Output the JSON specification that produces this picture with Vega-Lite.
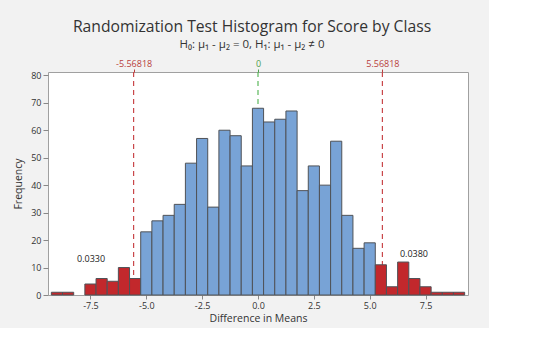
{
  "$schema": "https://vega.github.io/schema/vega-lite/v6.json",
  "width": 420,
  "height": 223,
  "autosize": {"type": "none"},
  "padding": {"left": 48, "top": 72, "right": 21, "bottom": 33},
  "background": "#f2f2f2",
  "view": {"fill": "white", "stroke": "#a0a0a0", "strokeWidth": 1},
  "config": {"font": "Open Sans"},
  "title": {
    "text": "Randomization Test Histogram for Score by Class",
    "subtitle": "H₀: μ₁ - μ₂ = 0, H₁: μ₁ - μ₂ ≠ 0",
    "anchor": "middle",
    "fontSize": 15.7,
    "fontWeight": "normal",
    "color": "#333333",
    "subtitleFontSize": 11.5,
    "subtitleColor": "#333333",
    "subtitlePadding": 3,
    "offset": 8,
    "dx": -6
  },
  "datasets": {
    "bins": [
      {"diff": -9.25, "diff_end": -8.75, "freq": 1, "region": "tail"},
      {"diff": -8.75, "diff_end": -8.25, "freq": 1, "region": "tail"},
      {"diff": -7.75, "diff_end": -7.25, "freq": 4, "region": "tail"},
      {"diff": -7.25, "diff_end": -6.75, "freq": 6, "region": "tail"},
      {"diff": -6.75, "diff_end": -6.25, "freq": 5, "region": "tail"},
      {"diff": -6.25, "diff_end": -5.75, "freq": 10, "region": "tail"},
      {"diff": -5.75, "diff_end": -5.25, "freq": 6, "region": "tail"},
      {"diff": -5.25, "diff_end": -4.75, "freq": 23, "region": "mid"},
      {"diff": -4.75, "diff_end": -4.25, "freq": 27, "region": "mid"},
      {"diff": -4.25, "diff_end": -3.75, "freq": 29, "region": "mid"},
      {"diff": -3.75, "diff_end": -3.25, "freq": 33, "region": "mid"},
      {"diff": -3.25, "diff_end": -2.75, "freq": 48, "region": "mid"},
      {"diff": -2.75, "diff_end": -2.25, "freq": 57, "region": "mid"},
      {"diff": -2.25, "diff_end": -1.75, "freq": 32, "region": "mid"},
      {"diff": -1.75, "diff_end": -1.25, "freq": 60, "region": "mid"},
      {"diff": -1.25, "diff_end": -0.75, "freq": 58, "region": "mid"},
      {"diff": -0.75, "diff_end": -0.25, "freq": 47, "region": "mid"},
      {"diff": -0.25, "diff_end": 0.25, "freq": 68, "region": "mid"},
      {"diff": 0.25, "diff_end": 0.75, "freq": 63, "region": "mid"},
      {"diff": 0.75, "diff_end": 1.25, "freq": 64, "region": "mid"},
      {"diff": 1.25, "diff_end": 1.75, "freq": 67, "region": "mid"},
      {"diff": 1.75, "diff_end": 2.25, "freq": 38, "region": "mid"},
      {"diff": 2.25, "diff_end": 2.75, "freq": 47, "region": "mid"},
      {"diff": 2.75, "diff_end": 3.25, "freq": 40, "region": "mid"},
      {"diff": 3.25, "diff_end": 3.75, "freq": 56, "region": "mid"},
      {"diff": 3.75, "diff_end": 4.25, "freq": 29, "region": "mid"},
      {"diff": 4.25, "diff_end": 4.75, "freq": 17, "region": "mid"},
      {"diff": 4.75, "diff_end": 5.25, "freq": 19, "region": "mid"},
      {"diff": 5.25, "diff_end": 5.75, "freq": 11, "region": "tail"},
      {"diff": 5.75, "diff_end": 6.25, "freq": 3, "region": "tail"},
      {"diff": 6.25, "diff_end": 6.75, "freq": 12, "region": "tail"},
      {"diff": 6.75, "diff_end": 7.25, "freq": 6, "region": "tail"},
      {"diff": 7.25, "diff_end": 7.75, "freq": 3, "region": "tail"},
      {"diff": 7.75, "diff_end": 8.25, "freq": 1, "region": "tail"},
      {"diff": 8.25, "diff_end": 8.75, "freq": 1, "region": "tail"},
      {"diff": 8.75, "diff_end": 9.25, "freq": 1, "region": "tail"}
    ],
    "refs": [
      {"value": -5.56818, "kind": "observed"},
      {"value": 0, "kind": "null"},
      {"value": 5.56818, "kind": "observed"}
    ],
    "pvals": [
      {"diff": -7.47, "freq": 13, "label": "0.0330"},
      {"diff": 6.98, "freq": 14.8, "label": "0.0380"}
    ]
  },
  "layer": [
    {
      "data": {"name": "refs"},
      "mark": {"type": "rule", "strokeDash": [5, 4], "strokeWidth": 1.2},
      "encoding": {
        "x": {
          "field": "value",
          "type": "quantitative",
          "scale": {"domain": [-9.4, 9.4], "nice": false, "zero": false},
          "axis": {
            "orient": "top",
            "values": [-5.56818, 0, 5.56818],
            "labelExpr": "datum.value == 0 ? '0' : replace(format(datum.value, '.5f'), '\u2212', '-')",
            "title": null,
            "grid": false,
            "domain": false,
            "tickSize": 3,
            "labelPadding": 1,
            "labelFontSize": 9,
            "labelColor": {"condition": {"test": "datum.value == 0", "value": "#4ea04e"}, "value": "#b8403c"},
            "tickColor": {"condition": {"test": "datum.value == 0", "value": "#4ea04e"}, "value": "#b8403c"}
          }
        },
        "stroke": {
          "field": "kind",
          "type": "nominal",
          "scale": {"domain": ["observed", "null"], "range": ["#c9474a", "#5cb85c"]},
          "legend": null
        }
      }
    },
    {
      "encoding": {
        "x": {
          "field": "diff",
          "type": "quantitative",
          "scale": {"domain": [-9.4, 9.4], "nice": false, "zero": false},
          "axis": {
            "orient": "bottom",
            "values": [-7.5, -5, -2.5, 0, 2.5, 5, 7.5],
            "labelExpr": "replace(format(datum.value, '.1f'), '\u2212', '-')",
            "title": "Difference in Means",
            "titleFontSize": 10.5,
            "titleFontWeight": "normal",
            "titleColor": "#333333",
            "titlePadding": 3,
            "grid": false,
            "domain": false,
            "tickSize": 4,
            "tickColor": "#888888",
            "labelPadding": 2,
            "labelFontSize": 9,
            "labelColor": "#333333"
          }
        },
        "y": {
          "field": "freq",
          "type": "quantitative",
          "scale": {"domain": [0, 81.2], "nice": false},
          "axis": {
            "values": [0, 10, 20, 30, 40, 50, 60, 70, 80],
            "title": "Frequency",
            "titleFontSize": 10.5,
            "titleFontWeight": "normal",
            "titleColor": "#333333",
            "titlePadding": 7,
            "grid": false,
            "domain": false,
            "tickSize": 5,
            "tickColor": "#888888",
            "labelPadding": 2,
            "labelFontSize": 9,
            "labelColor": "#333333"
          }
        }
      },
      "layer": [
        {
          "data": {"name": "bins"},
          "mark": {"type": "bar", "stroke": "#4f5257", "strokeWidth": 1},
          "encoding": {
            "x2": {"field": "diff_end"},
            "y2": {"datum": 0},
            "fill": {
              "field": "region",
              "type": "nominal",
              "scale": {"domain": ["tail", "mid"], "range": ["#c2282c", "#78a3d6"]},
              "legend": null
            }
          }
        },
        {
          "data": {"name": "pvals"},
          "mark": {"type": "text", "fontSize": 9, "color": "#222222", "baseline": "middle", "align": "center"},
          "encoding": {
            "text": {"field": "label", "type": "nominal"}
          }
        }
      ]
    }
  ]
}
